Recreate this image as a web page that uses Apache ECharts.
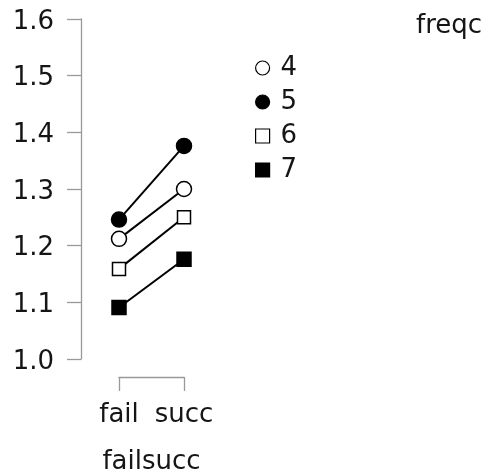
<!DOCTYPE html>
<html><head><meta charset="utf-8">
<script src="https://cdn.jsdelivr.net/npm/echarts@6/dist/echarts.min.js"></script>
<style>html,body{margin:0;padding:0;background:#fff}#c{width:481px;height:474px}</style>
</head><body><div id="c"></div>
<script>
var categories = ['fail', 'succ'];
var groups = ['4', '5', '6', '7'];
var values4 = [1.212, 1.300];
var values5 = [1.246, 1.376];
var values6 = [1.159, 1.250];
var values7 = [1.091, 1.176];
var yTicks = [1.0, 1.1, 1.2, 1.3, 1.4, 1.5, 1.6];

var FONT = 'DejaVu Sans';
var TXT = '#151515';
var styles = {
  '4': {symbol: 'circle', size: 15, fill: '#fff'},
  '5': {symbol: 'circle', size: 15, fill: '#000'},
  '6': {symbol: 'rect', size: 13, fill: '#fff'},
  '7': {symbol: 'rect', size: 14, fill: '#000'}
};
var dataMap = {'4': values4, '5': values5, '6': values6, '7': values7};

var series = groups.map(function (g) {
  var s = styles[g];
  return {
    name: g, type: 'line', data: dataMap[g],
    symbol: s.symbol, symbolSize: s.size,
    itemStyle: {color: s.fill, borderColor: '#000', borderWidth: 1.5},
    lineStyle: {color: '#000', width: 2},
    emphasis: {disabled: true}
  };
});

var chart = echarts.init(document.getElementById('c'), null, {renderer: 'canvas'});
chart.setOption({
  animation: false,
  backgroundColor: '#fff',
  title: {
    text: 'freqc', left: 411, top: 8,
    textStyle: {fontFamily: FONT, fontSize: 26, fontWeight: 'normal', color: TXT}
  },
  legend: {
    orient: 'vertical', left: 250, top: 50,
    itemWidth: 14, itemHeight: 14, itemGap: 8,
    selectedMode: false,
    textStyle: {fontFamily: FONT, fontSize: 26, color: TXT, lineHeight: 26, padding: [0, 0, 0, 6]},
    data: groups.map(function (g) {
      var s = styles[g];
      return {name: g, icon: s.symbol,
        itemStyle: {color: s.fill, borderColor: '#000', borderWidth: 1.2}};
    })
  },
  grid: {left: 119, width: 65, top: 19, height: 340, containLabel: false, outerBoundsMode: 'none'},
  xAxis: {
    type: 'category', data: categories, boundaryGap: false,
    offset: 18,
    name: 'failsucc', nameLocation: 'middle', nameGap: 72,
    nameTextStyle: {fontFamily: FONT, fontSize: 26, color: TXT},
    axisLine: {show: true, lineStyle: {color: '#999', width: 1.3}},
    axisTick: {show: true, length: 14, alignWithLabel: true, lineStyle: {color: '#999', width: 1.3}},
    axisLabel: {fontFamily: FONT, fontSize: 26, color: TXT, margin: 25, interval: 0},
    splitLine: {show: false}
  },
  yAxis: {
    type: 'value', min: 1.0, max: 1.6, interval: 0.1,
    offset: 38,
    axisLine: {show: true, lineStyle: {color: '#999', width: 1.3}},
    axisTick: {show: true, length: 14, lineStyle: {color: '#999', width: 1.3}},
    axisLabel: {fontFamily: FONT, fontSize: 26, color: TXT, margin: 27,
      formatter: function (v) { return '{a|' + v.toFixed(1) + '}'; },
      rich: {a: {fontFamily: FONT, fontSize: 26, color: TXT, padding: [6, 0, 0, 0]}}},
    splitLine: {show: false}
  },
  series: series
});
</script></body></html>
